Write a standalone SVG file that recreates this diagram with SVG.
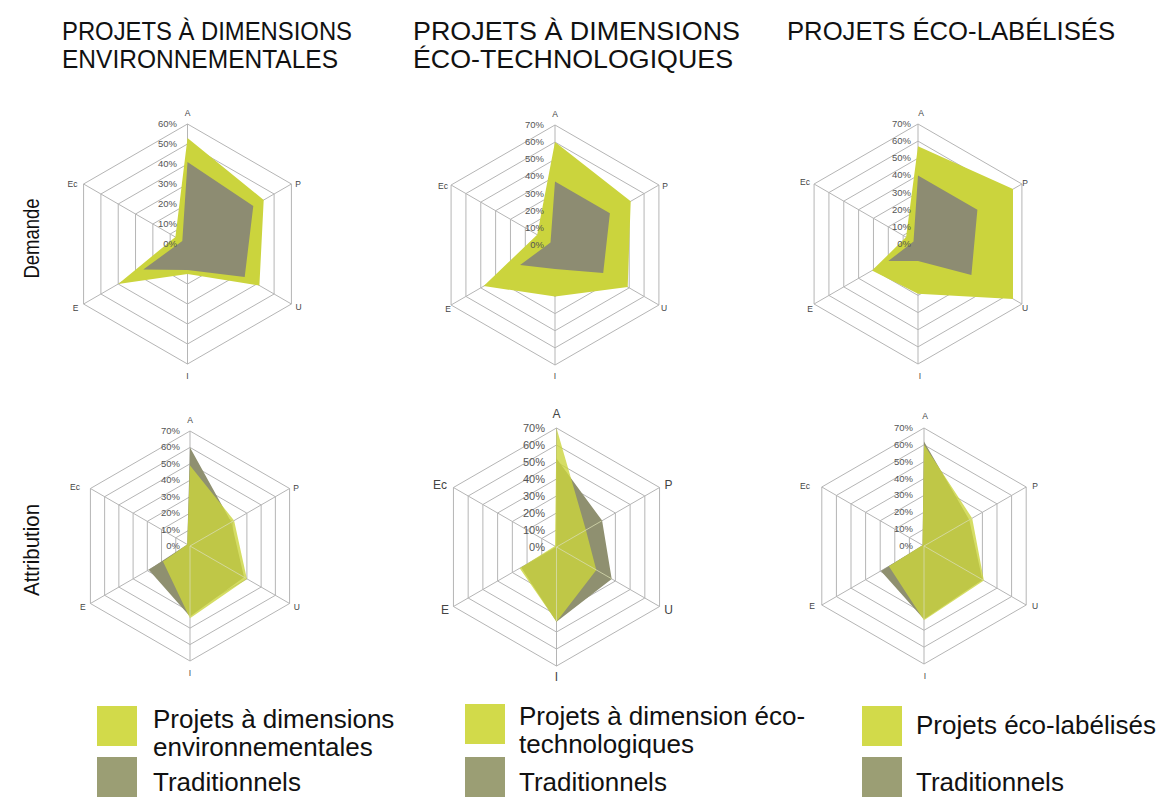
<svg xmlns="http://www.w3.org/2000/svg" width="1157" height="802" viewBox="0 0 1157 802">
<style>
.ring{fill:none;stroke:#b5b5b5;stroke-width:1;vector-effect:non-scaling-stroke}
.spk{fill:none;stroke:#b5b5b5;stroke-width:1}
.spk2{fill:none;stroke:#d8dcb0;stroke-width:1;opacity:0.8}
.g{fill:#cbd43d}
.t{fill:#8d8c72}
.gb{fill:#cbd43d;fill-opacity:0.8}
.tb{fill:#8f9070}
.ax{font-family:"Liberation Sans",Arial,sans-serif;font-size:8.5px;fill:#444;text-anchor:middle}
.pc{font-family:"Liberation Sans",Arial,sans-serif;font-size:9.5px;fill:#555;text-anchor:end}
.big .ax{font-size:12px}
.big .pc{font-size:11px}
.title{font-family:"Liberation Sans",Arial,sans-serif;font-size:26px;fill:#111}
.row{font-family:"Liberation Sans",Arial,sans-serif;font-size:22px;fill:#111;text-anchor:middle}
.leg{font-family:"Liberation Sans",Arial,sans-serif;font-size:26px;fill:#111}
.lg{fill:#d2da4a}
.lt{fill:#9b9e74}
</style>
<defs>
<polygon id="hex" class="ring" points="0,-1 0.866,-0.5 0.866,0.5 0,1 -0.866,0.5 -0.866,-0.5"/>
</defs>
<rect x="0" y="0" width="1157" height="802" fill="#fff"/>

<g id="titles">
<text class="title" x="62" y="40" textLength="290" lengthAdjust="spacingAndGlyphs">PROJETS À DIMENSIONS</text>
<text class="title" x="62" y="68" textLength="276" lengthAdjust="spacingAndGlyphs">ENVIRONNEMENTALES</text>
<text class="title" x="413" y="40" textLength="327" lengthAdjust="spacingAndGlyphs">PROJETS À DIMENSIONS</text>
<text class="title" x="413" y="68" textLength="320" lengthAdjust="spacingAndGlyphs">ÉCO-TECHNOLOGIQUES</text>
<text class="title" x="787" y="40" textLength="328" lengthAdjust="spacingAndGlyphs">PROJETS ÉCO-LABÉLISÉS</text>
</g>

<g id="row-labels">
<text class="row" transform="translate(39,238.5) rotate(-90)" textLength="80" lengthAdjust="spacingAndGlyphs">Demande</text>
<text class="row" transform="translate(39,550) rotate(-90)" textLength="92" lengthAdjust="spacingAndGlyphs">Attribution</text>
</g>

<!-- Chart 1 -->
<g id="chart-demande-env" transform="translate(187.5,244)">
<use href="#hex" transform="scale(20)"/><use href="#hex" transform="scale(40)"/><use href="#hex" transform="scale(60)"/>
<use href="#hex" transform="scale(80)"/><use href="#hex" transform="scale(100)"/><use href="#hex" transform="scale(120)"/>
<path class="spk" d="M0,0V-120M0,0L103.92,-60M0,0L103.92,60M0,0V120M0,0L-103.92,60M0,0L-103.92,-60"/>
<polygon class="g" points="0,-106 76.2,-44 71.9,41.5 0,30 -69.3,40 -12.1,-7"/>
<polygon class="t" points="0,-82 65.8,-38 57.2,33 0,26 -44.2,25.5 -5.2,-3"/>
<text class="pc" x="-10.5" y="3">0%</text><text class="pc" x="-10.5" y="-17">10%</text><text class="pc" x="-10.5" y="-37">20%</text>
<text class="pc" x="-10.5" y="-57">30%</text><text class="pc" x="-10.5" y="-77">40%</text><text class="pc" x="-10.5" y="-97">50%</text><text class="pc" x="-10.5" y="-117">60%</text>
<text class="ax" x="0" y="-128">A</text><text class="ax" x="110.5" y="-57">P</text><text class="ax" x="111" y="66">U</text>
<text class="ax" x="0" y="135">I</text><text class="ax" x="-112" y="67">E</text><text class="ax" x="-115" y="-57">Ec</text>
</g>

<!-- Chart 2 -->
<g id="chart-demande-ecotech" transform="translate(555,245)">
<use href="#hex" transform="scale(17.14)"/><use href="#hex" transform="scale(34.29)"/><use href="#hex" transform="scale(51.43)"/><use href="#hex" transform="scale(68.57)"/>
<use href="#hex" transform="scale(85.71)"/><use href="#hex" transform="scale(102.86)"/><use href="#hex" transform="scale(120)"/>
<path class="spk" d="M0,0V-120M0,0L103.92,-60M0,0L103.92,60M0,0V120M0,0L-103.92,60M0,0L-103.92,-60"/>
<polygon class="g" points="0,-102.9 75.7,-43.7 72.7,42 0,51.4 -71.3,41.1 -17.8,-10.3"/>
<polygon class="t" points="0,-63.4 54.9,-31.7 48.2,27.9 0,24 -34.9,20.1 -4.5,-2.6"/>
<text class="pc" x="-11" y="3">0%</text><text class="pc" x="-11" y="-14.1">10%</text><text class="pc" x="-11" y="-31.3">20%</text><text class="pc" x="-11" y="-48.4">30%</text>
<text class="pc" x="-11" y="-65.6">40%</text><text class="pc" x="-11" y="-82.7">50%</text><text class="pc" x="-11" y="-99.9">60%</text><text class="pc" x="-11" y="-117">70%</text>
<text class="ax" x="0" y="-128">A</text><text class="ax" x="110" y="-56">P</text><text class="ax" x="109" y="66">U</text>
<text class="ax" x="0" y="134">I</text><text class="ax" x="-107" y="66.5">E</text><text class="ax" x="-112" y="-56">Ec</text>
</g>

<!-- Chart 3 -->
<g id="chart-demande-ecolabel" transform="translate(918,244)">
<use href="#hex" transform="scale(17.14)"/><use href="#hex" transform="scale(34.29)"/><use href="#hex" transform="scale(51.43)"/><use href="#hex" transform="scale(68.57)"/>
<use href="#hex" transform="scale(85.71)"/><use href="#hex" transform="scale(102.86)"/><use href="#hex" transform="scale(120)"/>
<path class="spk" d="M0,0V-120M0,0L103.92,-60M0,0L103.92,60M0,0V120M0,0L-103.92,60M0,0L-103.92,-60"/>
<polygon class="g" points="0,-97.7 95,-54.9 95,54.9 0,49.7 -46,26.6 -11.9,-6.9"/>
<polygon class="t" points="0,-68.6 59.4,-34.3 53.4,30.9 0,17.1 -29.7,17.1 -4.5,-2.6"/>
<text class="pc" x="-7" y="3">0%</text><text class="pc" x="-7" y="-14.1">10%</text><text class="pc" x="-7" y="-31.3">20%</text><text class="pc" x="-7" y="-48.4">30%</text>
<text class="pc" x="-7" y="-65.6">40%</text><text class="pc" x="-7" y="-82.7">50%</text><text class="pc" x="-7" y="-99.9">60%</text><text class="pc" x="-7" y="-117">70%</text>
<text class="ax" x="3" y="-128">A</text><text class="ax" x="107" y="-58">P</text><text class="ax" x="107" y="67">U</text>
<text class="ax" x="2" y="135">I</text><text class="ax" x="-108" y="68">E</text><text class="ax" x="-113" y="-59">Ec</text>
</g>

<!-- Chart 4 -->
<g id="chart-attribution-env" transform="translate(190,546)">
<use href="#hex" transform="scale(16.43)"/><use href="#hex" transform="scale(32.86)"/><use href="#hex" transform="scale(49.29)"/><use href="#hex" transform="scale(65.71)"/>
<use href="#hex" transform="scale(82.14)"/><use href="#hex" transform="scale(98.57)"/><use href="#hex" transform="scale(115)"/>
<path class="spk" d="M0,0V-115M0,0L99.59,-57.5M0,0L99.59,57.5M0,0V115M0,0L-99.59,57.5M0,0L-99.59,-57.5"/>
<polygon class="tb" points="0,-98.6 41.3,-23.8 54.1,31.2 0,70.6 -41.3,23.8 -2.8,-1.6"/>
<polygon class="gb" points="0,-80.5 44.1,-25.5 56.9,32.9 0,72.3 -27,15.6 -2.8,-1.6"/>
<path class="spk2" d="M0,0L44,-25.4M0,0L56,32.3M0,0V72"/>
<text class="pc" x="-10" y="3">0%</text><text class="pc" x="-10" y="-13.4">10%</text><text class="pc" x="-10" y="-29.9">20%</text><text class="pc" x="-10" y="-46.3">30%</text>
<text class="pc" x="-10" y="-62.7">40%</text><text class="pc" x="-10" y="-79.1">50%</text><text class="pc" x="-10" y="-95.6">60%</text><text class="pc" x="-10" y="-112">70%</text>
<text class="ax" x="0" y="-123">A</text><text class="ax" x="106" y="-55">P</text><text class="ax" x="106.7" y="64">U</text>
<text class="ax" x="0" y="130">I</text><text class="ax" x="-107.3" y="64">E</text><text class="ax" x="-115" y="-56">Ec</text>
</g>

<!-- Chart 5 -->
<g id="chart-attribution-ecotech" class="big" transform="translate(556.5,547)">
<use href="#hex" transform="scale(17)"/><use href="#hex" transform="scale(34)"/><use href="#hex" transform="scale(51)"/><use href="#hex" transform="scale(68)"/>
<use href="#hex" transform="scale(85)"/><use href="#hex" transform="scale(102)"/><use href="#hex" transform="scale(119)"/>
<path class="spk" d="M0,0V-119M0,0L103.06,-59.5M0,0L103.06,59.5M0,0V119M0,0L-103.06,59.5M0,0L-103.06,-59.5"/>
<polygon class="tb" points="0,-88.4 45.6,-26.4 55.2,31.9 0,74.8 -35.3,20.4 0,0"/>
<polygon class="gb" points="0,-119 29.4,-17 39.8,23 0,74.8 -36.8,21.3 -1.5,-0.9"/>
<path class="spk2" d="M0,0L45,-26M0,0L55,31.7M0,0V74"/>
<text class="pc" x="-11.5" y="4">0%</text><text class="pc" x="-11.5" y="-13">10%</text><text class="pc" x="-11.5" y="-30">20%</text><text class="pc" x="-11.5" y="-47">30%</text>
<text class="pc" x="-11.5" y="-64">40%</text><text class="pc" x="-11.5" y="-81">50%</text><text class="pc" x="-11.5" y="-98">60%</text><text class="pc" x="-11.5" y="-115">70%</text>
<text class="ax" x="0" y="-129">A</text><text class="ax" x="112" y="-58">P</text><text class="ax" x="112" y="67">U</text>
<text class="ax" x="0" y="134">I</text><text class="ax" x="-111.5" y="67">E</text><text class="ax" x="-116.5" y="-58">Ec</text>
</g>

<!-- Chart 6 -->
<g id="chart-attribution-ecolabel" transform="translate(924,546)">
<use href="#hex" transform="scale(16.86)"/><use href="#hex" transform="scale(33.71)"/><use href="#hex" transform="scale(50.57)"/><use href="#hex" transform="scale(67.43)"/>
<use href="#hex" transform="scale(84.29)"/><use href="#hex" transform="scale(101.14)"/><use href="#hex" transform="scale(118)"/>
<path class="spk" d="M0,0V-118M0,0L102.19,-59M0,0L102.19,59M0,0V118M0,0L-102.19,59M0,0L-102.19,-59"/>
<polygon class="tb" points="0,-104.5 45.3,-26.1 58.4,33.7 0,73.3 -43.1,24.9 -1.5,-0.8"/>
<polygon class="gb" points="0,-101.2 48.2,-27.8 59.9,34.6 0,74.2 -35.1,20.2 -1.5,-0.8"/>
<path class="spk2" d="M0,0L48,-27.7M0,0L59.5,34.3M0,0V74"/>
<text class="pc" x="-11" y="3">0%</text><text class="pc" x="-11" y="-13.9">10%</text><text class="pc" x="-11" y="-30.7">20%</text><text class="pc" x="-11" y="-47.6">30%</text>
<text class="pc" x="-11" y="-64.4">40%</text><text class="pc" x="-11" y="-81.3">50%</text><text class="pc" x="-11" y="-98.1">60%</text><text class="pc" x="-11" y="-115">70%</text>
<text class="ax" x="1" y="-127">A</text><text class="ax" x="111" y="-57">P</text><text class="ax" x="111" y="63">U</text>
<text class="ax" x="1" y="133">I</text><text class="ax" x="-112" y="63">E</text><text class="ax" x="-119" y="-57">Ec</text>
</g>

<!-- Legend -->
<g id="legend-env">
<rect class="lg" x="97" y="706" width="40" height="40"/>
<rect class="lt" x="97" y="757" width="40" height="40"/>
<text class="leg" x="153" y="728">Projets à dimensions</text>
<text class="leg" x="153" y="756">environnementales</text>
<text class="leg" x="153" y="791">Traditionnels</text>
</g>
<g id="legend-ecotech">
<rect class="lg" x="465" y="704" width="40" height="40"/>
<rect class="lt" x="465" y="757" width="40" height="40"/>
<text class="leg" x="519" y="725">Projets à dimension éco-</text>
<text class="leg" x="519" y="753">technologiques</text>
<text class="leg" x="519" y="791">Traditionnels</text>
</g>
<g id="legend-ecolabel">
<rect class="lg" x="862" y="706" width="40" height="40"/>
<rect class="lt" x="862" y="757" width="40" height="40"/>
<text class="leg" x="916" y="734">Projets éco-labélisés</text>
<text class="leg" x="916" y="791">Traditionnels</text>
</g>
</svg>
